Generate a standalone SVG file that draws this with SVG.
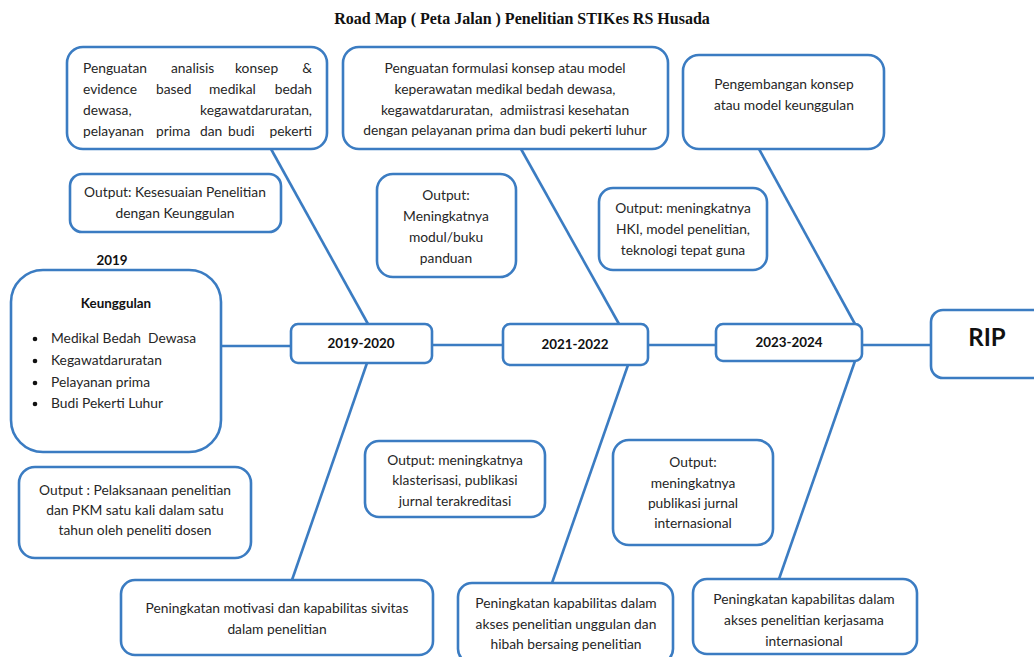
<svg xmlns="http://www.w3.org/2000/svg" width="1034" height="657" viewBox="0 0 1034 657">
<style>
.bx{fill:#fff;stroke:#3b7cc2;stroke-width:2.6}
.ln{stroke:#3b7cc2;stroke-width:2.6;fill:none}
.t{font-family:Lato,"Open Sans","Liberation Sans",sans-serif;font-size:13.8px;fill:#262626;white-space:pre}
.c{text-anchor:middle}
.b{font-weight:bold;fill:#111;font-size:13.4px}
.title{font-family:"Liberation Serif","DejaVu Serif",serif;font-size:16px;font-weight:bold;text-anchor:middle;fill:#111}
</style>
<rect width="1034" height="657" fill="#fff"/>
<text class="title" x="522" y="24">Road Map ( Peta Jalan ) Penelitian STIKes RS Husada</text>
<g id="connectors">
<line class="ln" x1="271" y1="149" x2="368" y2="324"/>
<line class="ln" x1="521" y1="149" x2="619" y2="324"/>
<line class="ln" x1="759" y1="149" x2="855" y2="324"/>
<line class="ln" x1="367" y1="363" x2="292" y2="580"/>
<line class="ln" x1="628" y1="365" x2="552" y2="583"/>
<line class="ln" x1="855" y1="361" x2="779" y2="579"/>
<line class="ln" x1="221" y1="346" x2="291" y2="346"/>
<line class="ln" x1="432" y1="345" x2="503" y2="345"/>
<line class="ln" x1="648" y1="345" x2="716" y2="345"/>
<line class="ln" x1="862" y1="345" x2="931" y2="345"/>
</g>
<g id="n-konsep-analisis">
<rect class="bx" x="67" y="47" width="260" height="102" rx="16"/>
<text class="t" y="73"><tspan x="83">Penguatan</tspan><tspan x="171">analisis</tspan><tspan x="235">konsep</tspan><tspan x="312" text-anchor="end">&amp;</tspan></text>
<text class="t" y="94"><tspan x="83">evidence</tspan><tspan x="156">based</tspan><tspan x="209">medikal</tspan><tspan x="312" text-anchor="end">bedah</tspan></text>
<text class="t" y="115"><tspan x="83">dewasa,</tspan><tspan x="312" text-anchor="end">kegawatdaruratan,</tspan></text>
<text class="t" y="136"><tspan x="83">pelayanan</tspan><tspan x="156">prima</tspan><tspan x="200">dan</tspan><tspan x="228">budi</tspan><tspan x="312" text-anchor="end">pekerti</tspan></text>
</g>
<g id="n-formulasi">
<rect class="bx" x="343" y="47" width="325" height="102" rx="16"/>
<text class="t c" x="505" y="73">Penguatan formulasi konsep atau model</text>
<text class="t c" x="505" y="94">keperawatan medikal bedah dewasa,</text>
<text class="t c" x="505" y="115">kegawatdaruratan,  admiistrasi kesehatan</text>
<text class="t c" x="505" y="135">dengan pelayanan prima dan budi pekerti luhur</text>
</g>
<g id="n-pengembangan">
<rect class="bx" x="683" y="55" width="201" height="94" rx="16"/>
<text class="t c" x="784" y="89">Pengembangan konsep</text>
<text class="t c" x="784" y="110">atau model keunggulan</text>
</g>
<g id="n-out-kesesuaian">
<rect class="bx" x="70" y="174" width="211" height="58" rx="12"/>
<text class="t c" x="175" y="197">Output: Kesesuaian Penelitian</text>
<text class="t c" x="175" y="218">dengan Keunggulan</text>
</g>
<g id="n-out-modul">
<rect class="bx" x="377" y="174" width="139" height="103" rx="16"/>
<text class="t c" x="446" y="200">Output:</text>
<text class="t c" x="446" y="221">Meningkatnya</text>
<text class="t c" x="446" y="242">modul/buku</text>
<text class="t c" x="446" y="263">panduan</text>
</g>
<g id="n-out-hki">
<rect class="bx" x="599" y="188" width="168" height="82" rx="14"/>
<text class="t c" x="683" y="213">Output: meningkatnya</text>
<text class="t c" x="683" y="234">HKI, model penelitian,</text>
<text class="t c" x="683" y="255">teknologi tepat guna</text>
</g>
<g id="n-keunggulan">
<text class="t c b" x="112" y="265">2019</text>
<rect class="bx" x="11" y="270" width="210" height="182" rx="32"/>
<text class="t c b" x="116" y="308">Keunggulan</text>
<g fill="#111">
<circle cx="35" cy="339" r="2.3"/>
<circle cx="35" cy="361" r="2.3"/>
<circle cx="35" cy="383" r="2.3"/>
<circle cx="35" cy="404" r="2.3"/>
</g>
<text class="t" x="51" y="343">Medikal Bedah  Dewasa</text>
<text class="t" x="51" y="365">Kegawatdaruratan</text>
<text class="t" x="51" y="387">Pelayanan prima</text>
<text class="t" x="51" y="408">Budi Pekerti Luhur</text>
</g>
<g id="n-2019-2020">
<rect class="bx" x="291" y="324" width="141" height="39" rx="7"/>
<text class="t c b" x="361" y="348">2019-2020</text>
</g>
<g id="n-2021-2022">
<rect class="bx" x="503" y="324" width="145" height="41" rx="7"/>
<text class="t c b" x="575" y="349">2021-2022</text>
</g>
<g id="n-2023-2024">
<rect class="bx" x="716" y="324" width="146" height="37" rx="7"/>
<text class="t c b" x="789" y="347">2023-2024</text>
</g>
<g id="n-rip">
<rect class="bx" x="931" y="310" width="115" height="68" rx="12"/>
<text class="t c b" x="987" y="346" style="font-size:24px">RIP</text>
</g>
<g id="n-out-pelaksanaan">
<rect class="bx" x="19" y="467" width="232" height="91" rx="16"/>
<text class="t c" x="135" y="495">Output : Pelaksanaan penelitian</text>
<text class="t c" x="135" y="515">dan PKM satu kali dalam satu</text>
<text class="t c" x="135" y="535">tahun oleh peneliti dosen</text>
</g>
<g id="n-out-klasterisasi">
<rect class="bx" x="365" y="441" width="180" height="76" rx="14"/>
<text class="t c" x="455" y="465">Output: meningkatnya</text>
<text class="t c" x="455" y="485">klasterisasi, publikasi</text>
<text class="t c" x="455" y="506">jurnal terakreditasi</text>
</g>
<g id="n-out-publikasi">
<rect class="bx" x="613" y="440" width="160" height="105" rx="16"/>
<text class="t c" x="693" y="467">Output:</text>
<text class="t c" x="693" y="488">meningkatnya</text>
<text class="t c" x="693" y="508">publikasi jurnal</text>
<text class="t c" x="693" y="528">internasional</text>
</g>
<g id="n-motivasi">
<rect class="bx" x="121" y="580" width="312" height="75" rx="14"/>
<text class="t c" x="277" y="613">Peningkatan motivasi dan kapabilitas sivitas</text>
<text class="t c" x="277" y="634">dalam penelitian</text>
</g>
<g id="n-unggulan">
<rect class="bx" x="458" y="583" width="215" height="80" rx="14"/>
<text class="t c" x="566" y="608">Peningkatan kapabilitas dalam</text>
<text class="t c" x="566" y="629">akses penelitian unggulan dan</text>
<text class="t c" x="566" y="649">hibah bersaing penelitian</text>
</g>
<g id="n-kerjasama">
<rect class="bx" x="693" y="579" width="224" height="75" rx="14"/>
<text class="t c" x="804" y="604">Peningkatan kapabilitas dalam</text>
<text class="t c" x="804" y="625">akses penelitian kerjasama</text>
<text class="t c" x="804" y="646">internasional</text>
</g>
</svg>
